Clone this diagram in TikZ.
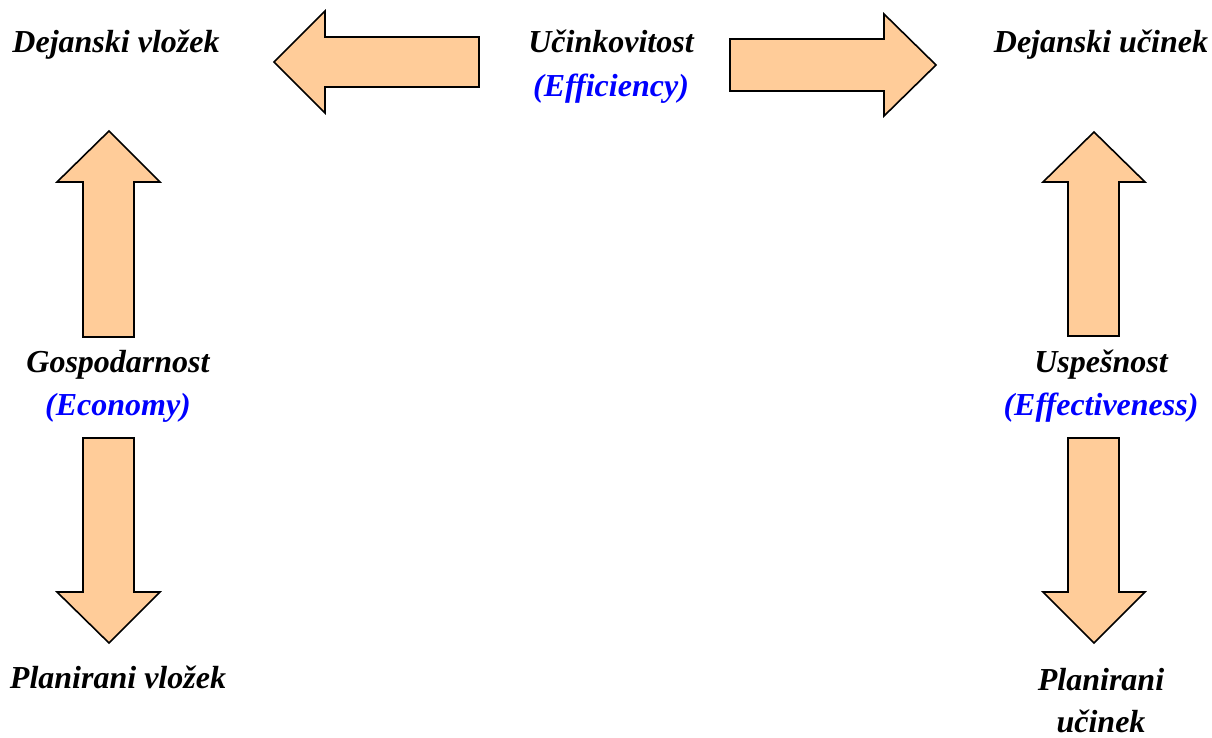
\documentclass[tikz,border=0pt]{standalone}
\usepackage{fontspec}
\setmainfont{Liberation Serif}
\definecolor{arrowfill}{HTML}{FFCC99}
\definecolor{engblue}{HTML}{0000FF}
\tikzset{
  blockarrow/.style={draw=black, fill=arrowfill, line width=1.6pt, line join=miter},
  term/.style={anchor=base, inner sep=0pt, font=\fontsize{32}{38}\selectfont\bfseries\itshape},
  eng/.style={term, text=engblue}
}
\begin{document}
\begin{tikzpicture}[x=1pt, y=-1pt]
\path[use as bounding box] (0,0) rectangle (1212,738);

% labels
\node[term] (dv) at (116,53) {Dejanski vložek};
\node[term] (du) at (1101,53) {Dejanski učinek};
\node[term] (uc) at (611,53) {Učinkovitost};
\node[eng]  (ef) at (611,97) {(Efficiency)};
\node[term] (go) at (118,372) {Gospodarnost};
\node[eng]  (ec) at (118,415) {(Economy)};
\node[term] (us) at (1101,372) {Uspešnost};
\node[eng]  (ev) at (1101,415) {(Effectiveness)};
\node[term] (pv) at (118,688) {Planirani vložek};
\node[term] (pu1) at (1101,690) {Planirani};
\node[term] (pu2) at (1101,732) {učinek};

% left-pointing arrow
\draw[blockarrow] (479,37) -- (325,37) -- (325,11) -- (274,62) -- (325,113)
  -- (325,87) -- (479,87) -- cycle;
% right-pointing arrow
\draw[blockarrow] (730,39) -- (884,39) -- (884,14) -- (936,65) -- (884,116)
  -- (884,91) -- (730,91) -- cycle;
% left column: up arrow
\draw[blockarrow] (83,337) -- (83,182) -- (57,182) -- (109,131) -- (160,182)
  -- (134,182) -- (134,337) -- cycle;
% left column: down arrow
\draw[blockarrow] (83,438) -- (83,592) -- (57,592) -- (109,643) -- (160,592)
  -- (134,592) -- (134,438) -- cycle;
% right column: up arrow
\draw[blockarrow] (1068,336) -- (1068,182) -- (1043,182) -- (1094,132) -- (1145,182)
  -- (1119,182) -- (1119,336) -- cycle;
% right column: down arrow
\draw[blockarrow] (1068,438) -- (1068,592) -- (1043,592) -- (1094,643) -- (1145,592)
  -- (1119,592) -- (1119,438) -- cycle;
\end{tikzpicture}
\end{document}
